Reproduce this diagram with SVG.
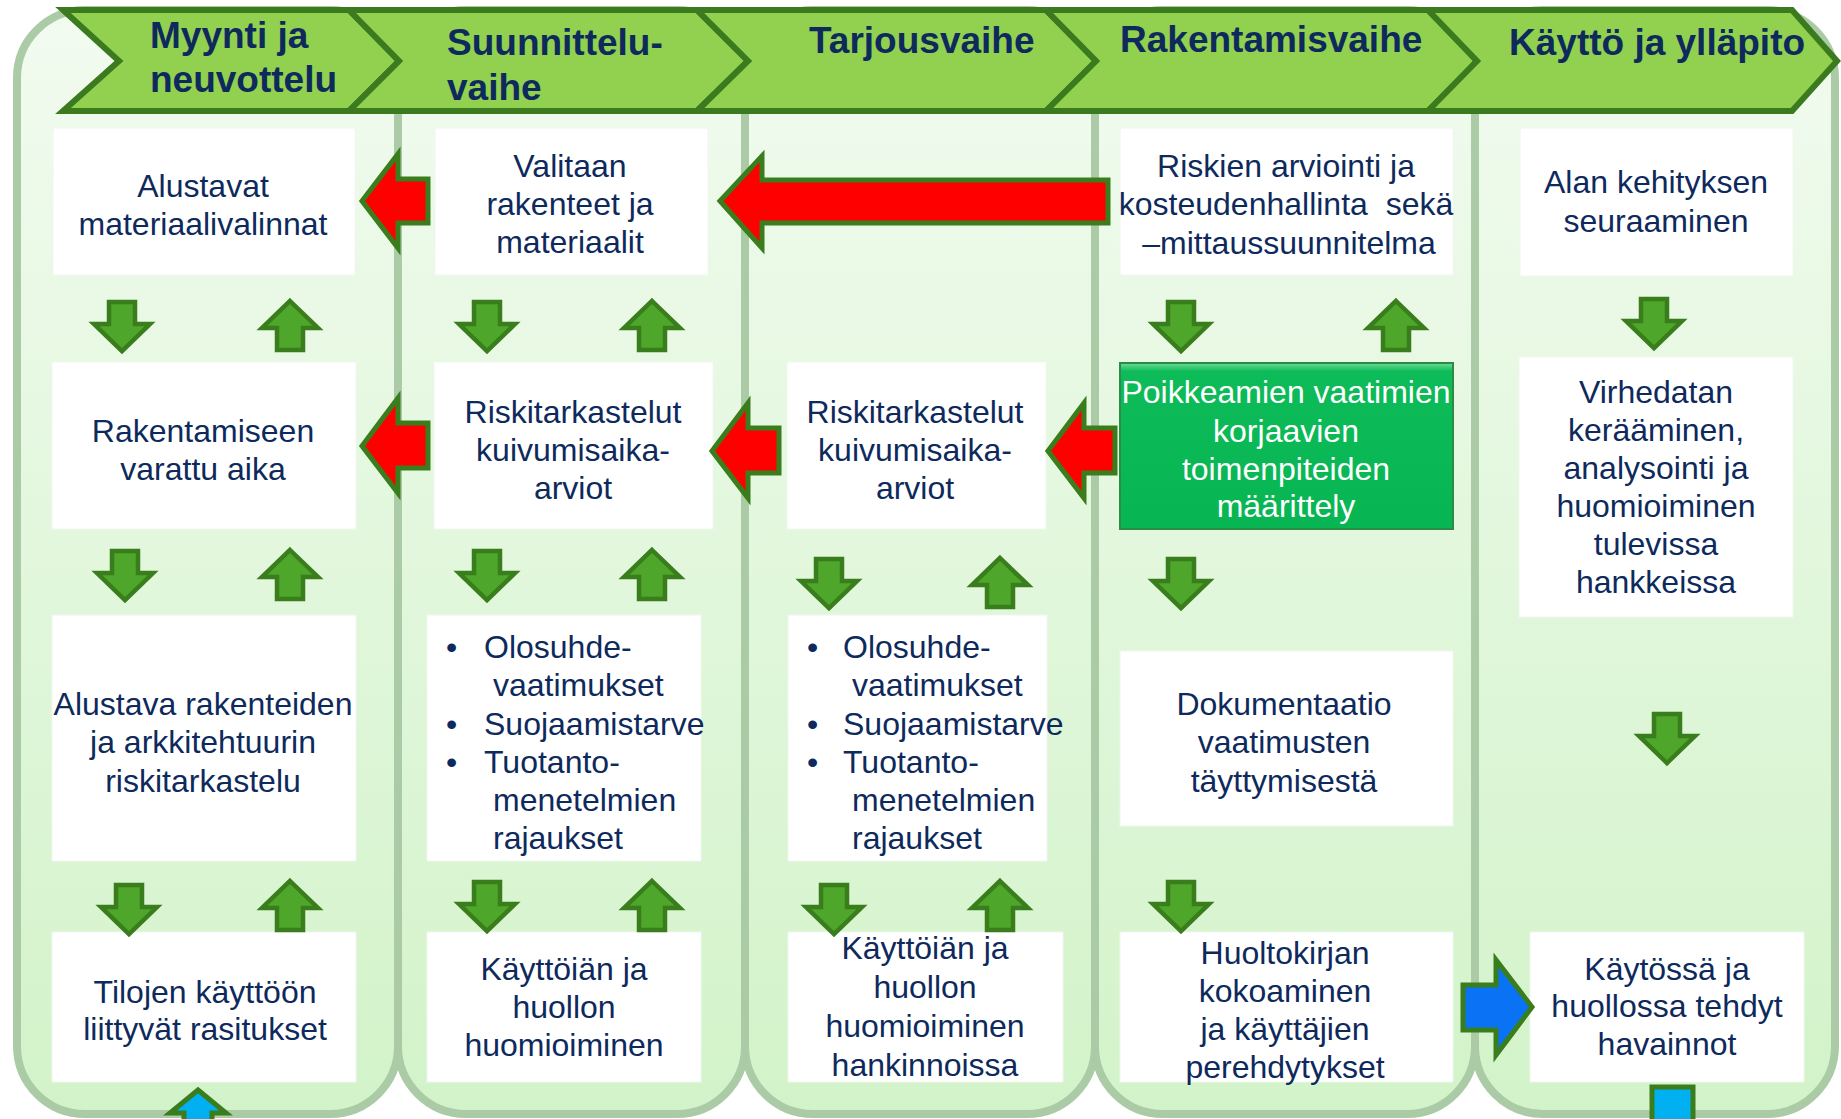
<svg xmlns="http://www.w3.org/2000/svg" xmlns:xlink="http://www.w3.org/1999/xlink" width="1841" height="1119" viewBox="0 0 1841 1119">
<defs>
<linearGradient id="pg" gradientUnits="userSpaceOnUse" x1="0" y1="0" x2="0" y2="1119">
<stop offset="0" stop-color="#F2FBF0"/>
<stop offset="1" stop-color="#D2F3C9"/>
</linearGradient>
<linearGradient id="gg" x1="0" y1="0" x2="0" y2="1">
<stop offset="0" stop-color="#6EDC9A"/>
<stop offset="0.05" stop-color="#0DBB58"/>
<stop offset="1" stop-color="#08B553"/>
</linearGradient>
<path id="dn" d="M-13,1 H13 V23 H28 L0,50 L-28,23 H-13 Z"/>
<path id="up" d="M0,1 L28,28 H13 V50 H-13 V28 H-28 Z"/>
<style>
.panel{fill:url(#pg);stroke:#ABCBA6;stroke-width:8}
.chev{fill:#92D050;stroke:#3B7A1E;stroke-width:6;stroke-linejoin:miter}
.hd{font-family:"Liberation Sans",Arial,sans-serif;font-weight:bold;font-size:37px;fill:#0E2A5C}
.box{fill:#FFFFFF;stroke:#F1F6EF;stroke-width:1}
.gbox{fill:url(#gg);stroke:#2E8B45;stroke-width:2}
.t{font-family:"Liberation Sans",Arial,sans-serif;font-size:32px;fill:#0E2A5C;text-anchor:middle}
.tl{font-family:"Liberation Sans",Arial,sans-serif;font-size:32px;fill:#0E2A5C}
.w{fill:#FFFFFF}
.ga{fill:#4EA72A;stroke:#3A7D1C;stroke-width:4.5}
.ra{fill:#FF0000;stroke:#3A7D1C;stroke-width:5}
.ba{fill:#0A72F5;stroke:#3A7D1C;stroke-width:5}
.ca{fill:#00B0F0;stroke:#3A7D1C;stroke-width:5}
</style>
</defs>
<rect width="1841" height="1119" fill="#FFFFFF"/>

<g id="panels">
<rect class="panel" x="17" y="10" width="381" height="1104" rx="68"/>
<rect class="panel" x="398" y="10" width="347" height="1104" rx="68"/>
<rect class="panel" x="745" y="10" width="350" height="1104" rx="68"/>
<rect class="panel" x="1095" y="10" width="380" height="1104" rx="68"/>
<rect class="panel" x="1475" y="10" width="360" height="1104" rx="68"/>
</g>

<g id="phase-myynti">
<path class="chev" d="M63,10 L349,10 L399,61 L349,111 L63,111 L119,61 Z"/>
<text class="hd" x="150" y="48">Myynti ja</text>
<text class="hd" x="150" y="92">neuvottelu</text>
</g>
<g id="phase-suunnittelu">
<path class="chev" d="M349,10 L697,10 L748,61 L697,111 L349,111 L399,61 Z"/>
<text class="hd" x="447" y="55">Suunnittelu-</text>
<text class="hd" x="447" y="100">vaihe</text>
</g>
<g id="phase-tarjous">
<path class="chev" d="M697,10 L1046,10 L1096,61 L1046,111 L697,111 L748,61 Z"/>
<text class="hd" x="809" y="53">Tarjousvaihe</text>
</g>
<g id="phase-rakentamis">
<path class="chev" d="M1046,10 L1428,10 L1477,61 L1428,111 L1046,111 L1096,61 Z"/>
<text class="hd" x="1120" y="52">Rakentamisvaihe</text>
</g>
<g id="phase-kaytto">
<path class="chev" d="M1428,10 L1792,10 L1837,61 L1792,111 L1428,111 L1477,61 Z"/>
<text class="hd" x="1509" y="55">Käyttö ja ylläpito</text>
</g>

<g id="n-alustavat">
<rect class="box" x="53" y="128" width="302" height="147"/>
<text class="t" x="203" y="197">Alustavat</text>
<text class="t" x="203" y="235">materiaalivalinnat</text>
</g>
<g id="n-valitaan">
<rect class="box" x="435" y="128" width="273" height="147"/>
<text class="t" x="570" y="177">Valitaan</text>
<text class="t" x="570" y="215">rakenteet ja</text>
<text class="t" x="570" y="253">materiaalit</text>
</g>
<g id="n-riskien">
<rect class="box" x="1120" y="128" width="333" height="147"/>
<text class="t" x="1286" y="177">Riskien arviointi ja</text>
<text class="t" x="1286" y="215" xml:space="preserve">kosteudenhallinta  sekä</text>
<text class="t" x="1289" y="254">–mittaussuunnitelma</text>
</g>
<g id="n-alan">
<rect class="box" x="1520" y="128" width="273" height="148"/>
<text class="t" x="1656" y="193">Alan kehityksen</text>
<text class="t" x="1656" y="232">seuraaminen</text>
</g>

<g id="n-rakentamiseen">
<rect class="box" x="52" y="362" width="304" height="167"/>
<text class="t" x="203" y="442">Rakentamiseen</text>
<text class="t" x="203" y="480">varattu aika</text>
</g>
<g id="n-riski2">
<rect class="box" x="434" y="362" width="279" height="167"/>
<text class="t" x="573" y="423">Riskitarkastelut</text>
<text class="t" x="573" y="461">kuivumisaika-</text>
<text class="t" x="573" y="499">arviot</text>
</g>
<g id="n-riski3">
<rect class="box" x="787" y="362" width="259" height="167"/>
<text class="t" x="915" y="423">Riskitarkastelut</text>
<text class="t" x="915" y="461">kuivumisaika-</text>
<text class="t" x="915" y="499">arviot</text>
</g>
<g id="n-poikkeamien">
<rect class="gbox" x="1120" y="363" width="333" height="166"/>
<text class="t w" x="1286" y="403">Poikkeamien vaatimien</text>
<text class="t w" x="1286" y="442">korjaavien</text>
<text class="t w" x="1286" y="480">toimenpiteiden</text>
<text class="t w" x="1286" y="517">määrittely</text>
</g>
<g id="n-virhedatan">
<rect class="box" x="1519" y="357" width="274" height="260"/>
<text class="t" x="1656" y="403">Virhedatan</text>
<text class="t" x="1656" y="441">kerääminen,</text>
<text class="t" x="1656" y="479">analysointi ja</text>
<text class="t" x="1656" y="517">huomioiminen</text>
<text class="t" x="1656" y="555">tulevissa</text>
<text class="t" x="1656" y="593">hankkeissa</text>
</g>

<g id="n-alustava-riski">
<rect class="box" x="52" y="615" width="304" height="246"/>
<text class="t" x="203" y="715">Alustava rakenteiden</text>
<text class="t" x="203" y="753">ja arkkitehtuurin</text>
<text class="t" x="203" y="792">riskitarkastelu</text>
</g>
<g id="n-olosuhde2">
<rect class="box" x="427" y="615" width="274" height="246"/>
<text class="tl" x="446" y="658">•</text>
<text class="tl" x="484" y="658">Olosuhde-</text>
<text class="tl" x="493" y="696">vaatimukset</text>
<text class="tl" x="446" y="735">•</text>
<text class="tl" x="484" y="735">Suojaamistarve</text>
<text class="tl" x="446" y="773">•</text>
<text class="tl" x="484" y="773">Tuotanto-</text>
<text class="tl" x="493" y="811">menetelmien</text>
<text class="tl" x="493" y="849">rajaukset</text>
</g>
<g id="n-olosuhde3">
<rect class="box" x="788" y="615" width="259" height="246"/>
<text class="tl" x="807" y="658">•</text>
<text class="tl" x="843" y="658">Olosuhde-</text>
<text class="tl" x="852" y="696">vaatimukset</text>
<text class="tl" x="807" y="735">•</text>
<text class="tl" x="843" y="735">Suojaamistarve</text>
<text class="tl" x="807" y="773">•</text>
<text class="tl" x="843" y="773">Tuotanto-</text>
<text class="tl" x="852" y="811">menetelmien</text>
<text class="tl" x="852" y="849">rajaukset</text>
</g>
<g id="n-dokumentaatio">
<rect class="box" x="1120" y="651" width="333" height="175"/>
<text class="t" x="1284" y="715">Dokumentaatio</text>
<text class="t" x="1284" y="753">vaatimusten</text>
<text class="t" x="1284" y="792">täyttymisestä</text>
</g>

<g id="n-tilojen">
<rect class="box" x="52" y="932" width="304" height="150"/>
<text class="t" x="205" y="1003">Tilojen käyttöön</text>
<text class="t" x="205" y="1040">liittyvät rasitukset</text>
</g>
<g id="n-kayttoian2">
<rect class="box" x="427" y="932" width="274" height="150"/>
<text class="t" x="564" y="980">Käyttöiän ja</text>
<text class="t" x="564" y="1018">huollon</text>
<text class="t" x="564" y="1056">huomioiminen</text>
</g>
<g id="n-kayttoian3">
<rect class="box" x="788" y="932" width="275" height="150"/>
<text class="t" x="925" y="959">Käyttöiän ja</text>
<text class="t" x="925" y="998">huollon</text>
<text class="t" x="925" y="1037">huomioiminen</text>
<text class="t" x="925" y="1076">hankinnoissa</text>
</g>
<g id="n-huoltokirjan">
<rect class="box" x="1120" y="932" width="333" height="150"/>
<text class="t" x="1285" y="964">Huoltokirjan</text>
<text class="t" x="1285" y="1002">kokoaminen</text>
<text class="t" x="1285" y="1040">ja käyttäjien</text>
<text class="t" x="1285" y="1078">perehdytykset</text>
</g>
<g id="n-kaytossa">
<rect class="box" x="1530" y="932" width="274" height="150"/>
<text class="t" x="1667" y="980">Käytössä ja</text>
<text class="t" x="1667" y="1017">huollossa tehdyt</text>
<text class="t" x="1667" y="1055">havainnot</text>
</g>

<g id="connectors">
<use href="#dn" xlink:href="#dn" class="ga" x="122" y="301"/>
<use href="#up" xlink:href="#up" class="ga" x="290" y="300"/>
<use href="#dn" xlink:href="#dn" class="ga" x="487" y="301"/>
<use href="#up" xlink:href="#up" class="ga" x="652" y="300"/>
<use href="#dn" xlink:href="#dn" class="ga" x="1181" y="301"/>
<use href="#up" xlink:href="#up" class="ga" x="1396" y="300"/>
<use href="#dn" xlink:href="#dn" class="ga" x="1654" y="298"/>

<use href="#dn" xlink:href="#dn" class="ga" x="125" y="550"/>
<use href="#up" xlink:href="#up" class="ga" x="290" y="549"/>
<use href="#dn" xlink:href="#dn" class="ga" x="487" y="550"/>
<use href="#up" xlink:href="#up" class="ga" x="652" y="549"/>
<use href="#dn" xlink:href="#dn" class="ga" x="829" y="558"/>
<use href="#up" xlink:href="#up" class="ga" x="1000" y="557"/>
<use href="#dn" xlink:href="#dn" class="ga" x="1181" y="558"/>

<use href="#dn" xlink:href="#dn" class="ga" x="1667" y="713"/>

<use href="#dn" xlink:href="#dn" class="ga" x="129" y="884"/>
<use href="#up" xlink:href="#up" class="ga" x="290" y="880"/>
<use href="#dn" xlink:href="#dn" class="ga" x="487" y="881"/>
<use href="#up" xlink:href="#up" class="ga" x="652" y="880"/>
<use href="#dn" xlink:href="#dn" class="ga" x="834" y="884"/>
<use href="#up" xlink:href="#up" class="ga" x="1000" y="880"/>
<use href="#dn" xlink:href="#dn" class="ga" x="1181" y="881"/>

<path class="ra" d="M362,201 L398,154 L398,179 L428,179 L428,223 L398,223 L398,248 Z"/>
<path class="ra" d="M720,201 L762,156 L762,180 L1108,180 L1108,223 L762,223 L762,248 Z"/>
<path class="ra" d="M362,446 L398,398 L398,423 L428,423 L428,468 L398,468 L398,493 Z"/>
<path class="ra" d="M712,451 L748,403 L748,428 L779,428 L779,473 L748,473 L748,498 Z"/>
<path class="ra" d="M1048,451 L1084,403 L1084,428 L1115,428 L1115,473 L1084,473 L1084,498 Z"/>

<path class="ba" d="M1463,985 L1496,985 L1496,960 L1532,1007 L1496,1055 L1496,1030 L1463,1030 Z"/>
<path class="ca" d="M198,1090 L226,1113 L212,1113 L212,1130 L184,1130 L184,1113 L170,1113 Z"/>
<rect class="ca" x="1652" y="1087" width="41" height="45"/>
</g>
</svg>
